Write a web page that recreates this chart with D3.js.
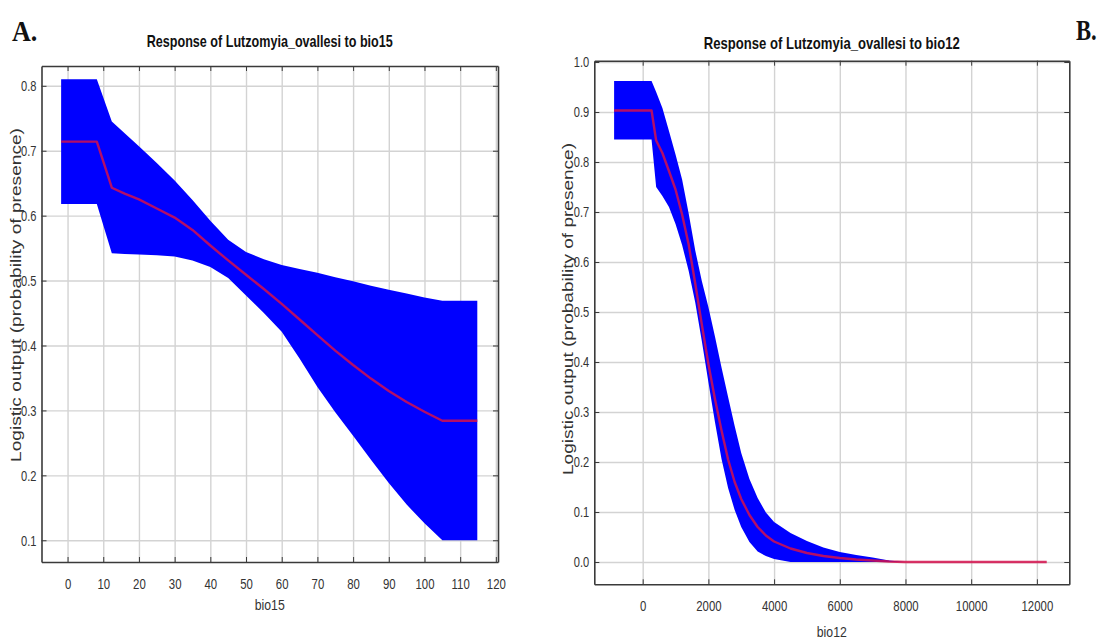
<!DOCTYPE html>
<html>
<head>
<meta charset="utf-8">
<script src="https://cdn.jsdelivr.net/npm/d3@7"></script>
<style>
  body { margin: 0; background: #fff; }
  svg { display: block; }
</style>
</head>
<body>
<svg id="chart" width="1100" height="642"></svg>
<script>
// ---- bio15 response (panel A) ----
const bio15Grid  = [-1.8, 8.2, 12.4, 16, 20, 25, 30, 35, 40, 45, 50, 55, 60, 65, 70, 75, 80, 85, 90, 95, 100, 105, 110, 114.8];
const bio15Mean  = [0.714, 0.714, 0.643, 0.634, 0.625, 0.611, 0.597, 0.578, 0.554, 0.531, 0.509, 0.487, 0.464, 0.440, 0.416, 0.392, 0.370, 0.349, 0.330, 0.313, 0.298, 0.284, 0.284, 0.284];
const bio15Upper = [0.810, 0.810, 0.745, 0.727, 0.707, 0.681, 0.654, 0.624, 0.592, 0.563, 0.544, 0.533, 0.524, 0.518, 0.512, 0.505, 0.499, 0.492, 0.486, 0.480, 0.474, 0.469, 0.469, 0.469];
const bio15Lower = [0.618, 0.618, 0.542, 0.541, 0.540, 0.539, 0.537, 0.531, 0.521, 0.504, 0.477, 0.450, 0.421, 0.380, 0.336, 0.297, 0.261, 0.224, 0.188, 0.155, 0.126, 0.100, 0.100, 0.100];
const bio15XTicks = [0, 10, 20, 30, 40, 50, 60, 70, 80, 90, 100, 110, 120];
const bio15YTicks = [0.1, 0.2, 0.3, 0.4, 0.5, 0.6, 0.7, 0.8];

// ---- bio12 response (panel B) ----
const bio12Grid  = [-870, 270, 410, 600, 800, 1000, 1200, 1400, 1600, 1800, 2000, 2200, 2400, 2600, 2800, 3000, 3250, 3500, 3750, 4000, 4500, 5000, 5500, 6000, 6500, 7000, 7500, 8000, 9000, 10000, 11000, 12300];
const bio12Mean  = [0.903, 0.903, 0.843, 0.818, 0.782, 0.745, 0.695, 0.635, 0.557, 0.475, 0.396, 0.326, 0.263, 0.205, 0.160, 0.126, 0.094, 0.070, 0.053, 0.041, 0.027, 0.018, 0.012, 0.008, 0.005, 0.003, 0.001, 0, 0, 0, 0, 0];
const bio12Upper = [0.962, 0.962, 0.940, 0.908, 0.862, 0.815, 0.765, 0.697, 0.623, 0.562, 0.510, 0.451, 0.389, 0.330, 0.272, 0.218, 0.166, 0.128, 0.099, 0.080, 0.058, 0.042, 0.029, 0.020, 0.014, 0.009, 0.003, 0, 0, 0, 0, 0];
const bio12Lower = [0.845, 0.845, 0.750, 0.732, 0.710, 0.676, 0.634, 0.582, 0.519, 0.442, 0.360, 0.280, 0.206, 0.148, 0.104, 0.070, 0.040, 0.021, 0.012, 0.006, 0, 0, 0, 0, 0, 0, 0, 0, 0, 0, 0, 0];
const bio12XTicks = [0, 2000, 4000, 6000, 8000, 10000, 12000];
const bio12YTicks = [0.0, 0.1, 0.2, 0.3, 0.4, 0.5, 0.6, 0.7, 0.8, 0.9, 1.0];

const yAxisTitle = "Logistic output (probability of presence)";
const SANS = "'Liberation Sans', Arial, Helvetica, sans-serif";
const SERIF = "'Liberation Serif', 'Times New Roman', serif";

const svg = d3.select("#chart");

// narrow the glyphs of tick labels horizontally (condensed look)
function condense(sel, dx, sx) {
  sel.selectAll("text").each(function () {
    d3.select(this).attr("x", null).attr("transform", `translate(${dx},0) scale(${sx},1)`);
  });
}

function drawPanel(cfg) {
  const f = cfg.frame;
  const x = d3.scaleLinear().domain(cfg.xDomain).range([f.left, f.right]);
  const y = d3.scaleLinear().domain(cfg.yDomain).range([f.bottom, f.top]);
  const g = svg.append("g");
  const h = f.bottom - f.top, w = f.right - f.left;

  // gridlines
  g.append("g")
    .attr("transform", `translate(0,${f.bottom})`)
    .call(d3.axisBottom(x).tickValues(cfg.xTicks).tickSize(-h).tickFormat(""))
    .call(s => {
      s.select(".domain").remove();
      s.selectAll("line").attr("stroke", "#d3d3d3").attr("stroke-width", 1.4);
    });
  g.append("g")
    .attr("transform", `translate(${f.left},0)`)
    .call(d3.axisLeft(y).tickValues(cfg.yTicks).tickSize(-w).tickFormat(""))
    .call(s => {
      s.select(".domain").remove();
      s.selectAll("line").attr("stroke", "#d3d3d3").attr("stroke-width", 1.4);
    });

  const rows = cfg.grid.map((v, i) => ({ x: v, m: cfg.mean[i], hi: cfg.upper[i], lo: cfg.lower[i] }));

  // spread between replicate runs
  g.append("path")
    .datum(rows)
    .attr("d", d3.area().x(d => x(d.x)).y0(d => y(d.lo)).y1(d => y(d.hi)))
    .attr("fill", "#0000ff");

  // mean response
  g.append("path")
    .datum(rows)
    .attr("d", d3.line().x(d => x(d.x)).y(d => y(d.m)))
    .attr("fill", "none")
    .attr("stroke", "#d4104c")
    .attr("stroke-opacity", 0.85)
    .attr("stroke-width", 2.4)
    .attr("stroke-linejoin", "round");

  // axes with inward ticks on every side
  const styleAxis = s => {
    s.select(".domain").attr("stroke", "#3a3a3a").attr("stroke-width", 1.6);
    s.selectAll(".tick line").attr("stroke", "#3a3a3a").attr("stroke-width", 1);
    s.selectAll("text")
      .attr("fill", "#333")
      .style("font-family", SANS)
      .style("font-size", "15px");
  };

  const bottom = g.append("g")
    .attr("transform", `translate(0,${f.bottom})`)
    .call(d3.axisBottom(x).tickValues(cfg.xTicks).tickSizeInner(-5).tickSizeOuter(0).tickPadding(16).tickFormat(d3.format("d")))
    .call(styleAxis);
  condense(bottom, 0, 0.76);

  const left = g.append("g")
    .attr("transform", `translate(${f.left},0)`)
    .call(d3.axisLeft(y).tickValues(cfg.yTicks).tickSizeInner(-5).tickSizeOuter(0).tickPadding(5).tickFormat(d3.format(".1f")))
    .call(styleAxis);
  condense(left, -5, 0.74);

  g.append("g")
    .attr("transform", `translate(0,${f.top})`)
    .call(d3.axisTop(x).tickValues(cfg.xTicks).tickSizeInner(-5).tickSizeOuter(0).tickFormat(""))
    .call(styleAxis);
  g.append("g")
    .attr("transform", `translate(${f.right},0)`)
    .call(d3.axisRight(y).tickValues(cfg.yTicks).tickSizeInner(-5).tickSizeOuter(0).tickFormat(""))
    .call(styleAxis);

  // title
  g.append("text")
    .attr("x", (f.left + f.right) / 2)
    .attr("y", cfg.titleY)
    .attr("text-anchor", "middle")
    .attr("textLength", cfg.titleLen)
    .attr("lengthAdjust", "spacingAndGlyphs")
    .style("font-family", SANS)
    .style("font-weight", "bold")
    .style("font-size", "17px")
    .attr("fill", "#111")
    .text(cfg.title);

  // axis titles
  g.append("text")
    .attr("x", (f.left + f.right) / 2)
    .attr("y", cfg.xLabelY)
    .attr("text-anchor", "middle")
    .attr("textLength", 30)
    .attr("lengthAdjust", "spacingAndGlyphs")
    .style("font-family", SANS)
    .style("font-size", "15px")
    .attr("fill", "#333")
    .text(cfg.xLabel);

  g.append("text")
    .attr("transform", `translate(${cfg.yLabelX},${cfg.yLabelCY}) rotate(-90)`)
    .attr("text-anchor", "middle")
    .attr("textLength", cfg.yLabelLen)
    .attr("lengthAdjust", "spacingAndGlyphs")
    .style("font-family", SANS)
    .style("font-size", "14px")
    .attr("fill", "#333")
    .text(yAxisTitle);
}

drawPanel({
  frame: { left: 41.5, right: 498, top: 66, bottom: 562 },
  xDomain: [-7.3, 120.6],
  yDomain: [0.0665, 0.8305],
  xTicks: bio15XTicks, yTicks: bio15YTicks,
  grid: bio15Grid, mean: bio15Mean, upper: bio15Upper, lower: bio15Lower,
  title: "Response of Lutzomyia_ovallesi to bio15", titleLen: 246, titleY: 47,
  xLabel: "bio15", xLabelY: 610,
  yLabelX: 21, yLabelCY: 295, yLabelLen: 334
});

drawPanel({
  frame: { left: 594.3, right: 1069.3, top: 60.7, bottom: 584.3 },
  xDomain: [-1473, 12987],
  yDomain: [-0.0446, 1.0026],
  xTicks: bio12XTicks, yTicks: bio12YTicks,
  grid: bio12Grid, mean: bio12Mean, upper: bio12Upper, lower: bio12Lower,
  title: "Response of Lutzomyia_ovallesi to bio12", titleLen: 256, titleY: 49,
  xLabel: "bio12", xLabelY: 637,
  yLabelX: 573, yLabelCY: 309, yLabelLen: 332
});

// panel letters (narrow bold serif)
svg.append("text")
  .attr("transform", "translate(12,41) scale(0.9,1)")
  .style("font-family", SERIF).style("font-weight", "bold").style("font-size", "29px")
  .attr("fill", "#111")
  .text("A.");
svg.append("text")
  .attr("transform", "translate(1076,40) scale(0.78,1)")
  .style("font-family", SERIF).style("font-weight", "bold").style("font-size", "29px")
  .attr("fill", "#111")
  .text("B.");
</script>
</body>
</html>
